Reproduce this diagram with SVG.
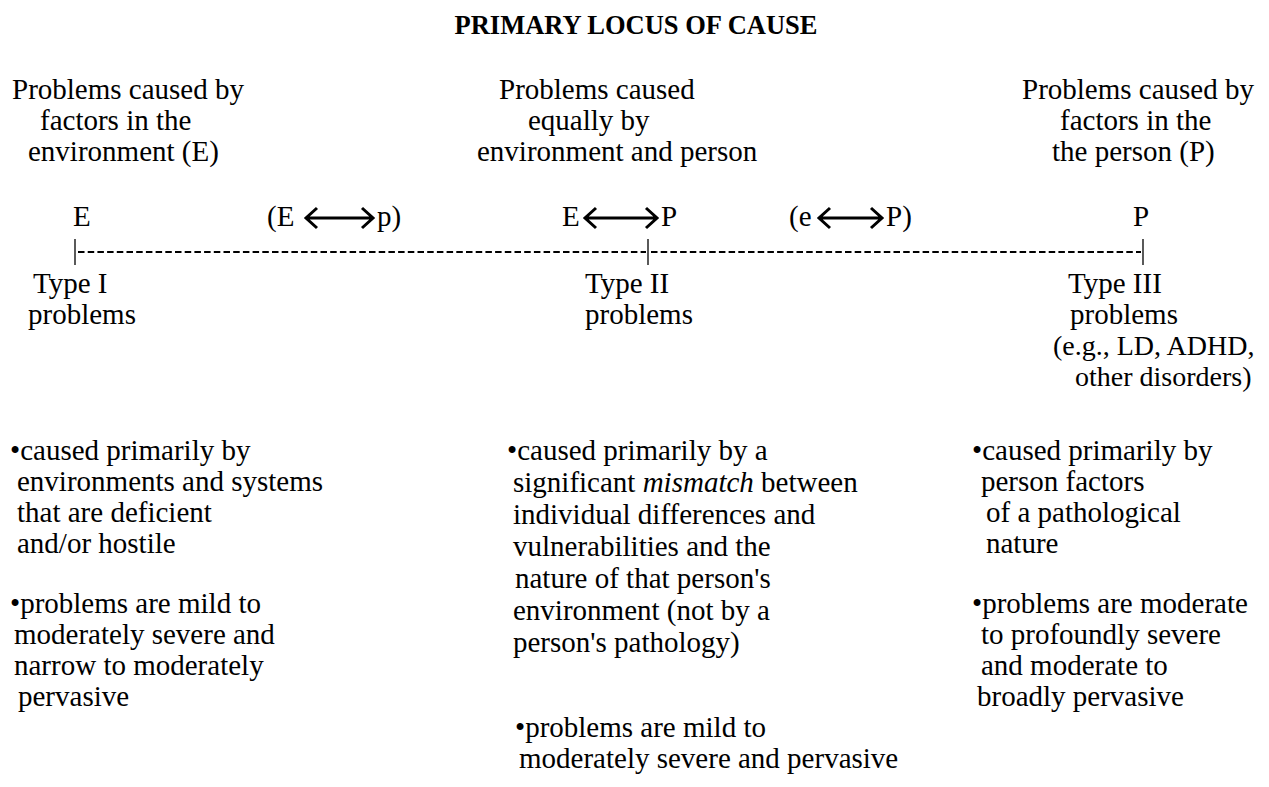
<svg xmlns="http://www.w3.org/2000/svg" width="1269" height="787" viewBox="0 0 1269 787" font-family="'Liberation Serif', 'Times New Roman', serif" font-size="29">
<defs>
<style>
.title{font-weight:bold;font-size:26.5px}
.tick{stroke:#000;stroke-width:1.3}
.axis{stroke:#000;stroke-width:1.8;stroke-dasharray:6.5 3.2}
.arr{stroke:#000;stroke-width:3;fill:none;stroke-linecap:butt;stroke-linejoin:miter}
</style>
</defs>
<rect width="1269" height="787" fill="#fff"/>
<text class="title" x="636" y="34" text-anchor="middle">PRIMARY LOCUS OF CAUSE</text>

<g id="header-e">
<text x="12" y="99">Problems caused by</text>
<text x="40" y="130">factors in the</text>
<text x="28" y="161">environment (E)</text>
</g>
<g id="header-ep">
<text x="499" y="99">Problems caused</text>
<text x="528" y="130">equally by</text>
<text x="477" y="161">environment and person</text>
</g>
<g id="header-p">
<text x="1022" y="99">Problems caused by</text>
<text x="1060" y="130">factors in the</text>
<text x="1052" y="161">the person (P)</text>
</g>

<g id="label-E"><text x="73" y="226">E</text></g>
<g id="label-Ep"><text x="267" y="226">(E</text><text x="377" y="226">p)</text></g>
<g id="label-EP"><text x="562" y="226">E</text><text x="661" y="226">P</text></g>
<g id="label-eP"><text x="789" y="226">(e</text><text x="886" y="226">P)</text></g>
<g id="label-P"><text x="1133" y="226">P</text></g>

<g id="connectors">
<line class="axis" x1="78" y1="252" x2="646" y2="252"/>
<line class="axis" x1="651" y1="252" x2="1141" y2="252"/>
<line class="tick" x1="75" y1="239" x2="75" y2="265"/>
<line class="tick" x1="648" y1="239" x2="648" y2="265"/>
<line class="tick" x1="1143" y1="239" x2="1143" y2="265"/>
<g class="arr">
<path d="M306 218 H372 M317 208 L306 218 L317 228 M362 208 L373 218 L362 228"/>
<path d="M585 218 H656 M596 208 L585 218 L596 228 M646 208 L657 218 L646 228"/>
<path d="M819 218 H881 M830 208 L819 218 L830 228 M871 208 L882 218 L871 228"/>
</g>
</g>

<g id="type-1">
<text x="33" y="293">Type I</text>
<text x="28" y="324">problems</text>
</g>
<g id="type-2">
<text x="585" y="293">Type II</text>
<text x="585" y="324">problems</text>
</g>
<g id="type-3">
<text x="1068" y="293">Type III</text>
<text x="1070" y="324">problems</text>
<text x="1053" y="355" font-size="28">(e.g., LD, ADHD,</text>
<text x="1075" y="386" font-size="28">other disorders)</text>
</g>

<g id="desc-1">
<text x="10" y="460">•caused primarily by</text>
<text x="17" y="491">environments and systems</text>
<text x="17" y="522">that are deficient</text>
<text x="17" y="553">and/or hostile</text>
<text x="10" y="613">•problems are mild to</text>
<text x="14" y="644">moderately severe and</text>
<text x="14" y="675">narrow to moderately</text>
<text x="18" y="706">pervasive</text>
</g>
<g id="desc-2">
<text x="507" y="460">•caused primarily by a</text>
<text x="513" y="492">significant <tspan font-style="italic">mismatch</tspan> between</text>
<text x="513" y="524">individual differences and</text>
<text x="513" y="556">vulnerabilities and the</text>
<text x="515" y="588">nature of that person's</text>
<text x="513" y="620">environment (not by a</text>
<text x="513" y="652">person's pathology)</text>
<text x="515" y="737">•problems are mild to</text>
<text x="519" y="768">moderately severe and pervasive</text>
</g>
<g id="desc-3">
<text x="972" y="460">•caused primarily by</text>
<text x="981" y="491">person factors</text>
<text x="986" y="522">of a pathological</text>
<text x="986" y="553">nature</text>
<text x="972" y="613">•problems are moderate</text>
<text x="981" y="644">to profoundly severe</text>
<text x="981" y="675">and moderate to</text>
<text x="977" y="706">broadly pervasive</text>
</g>
</svg>
